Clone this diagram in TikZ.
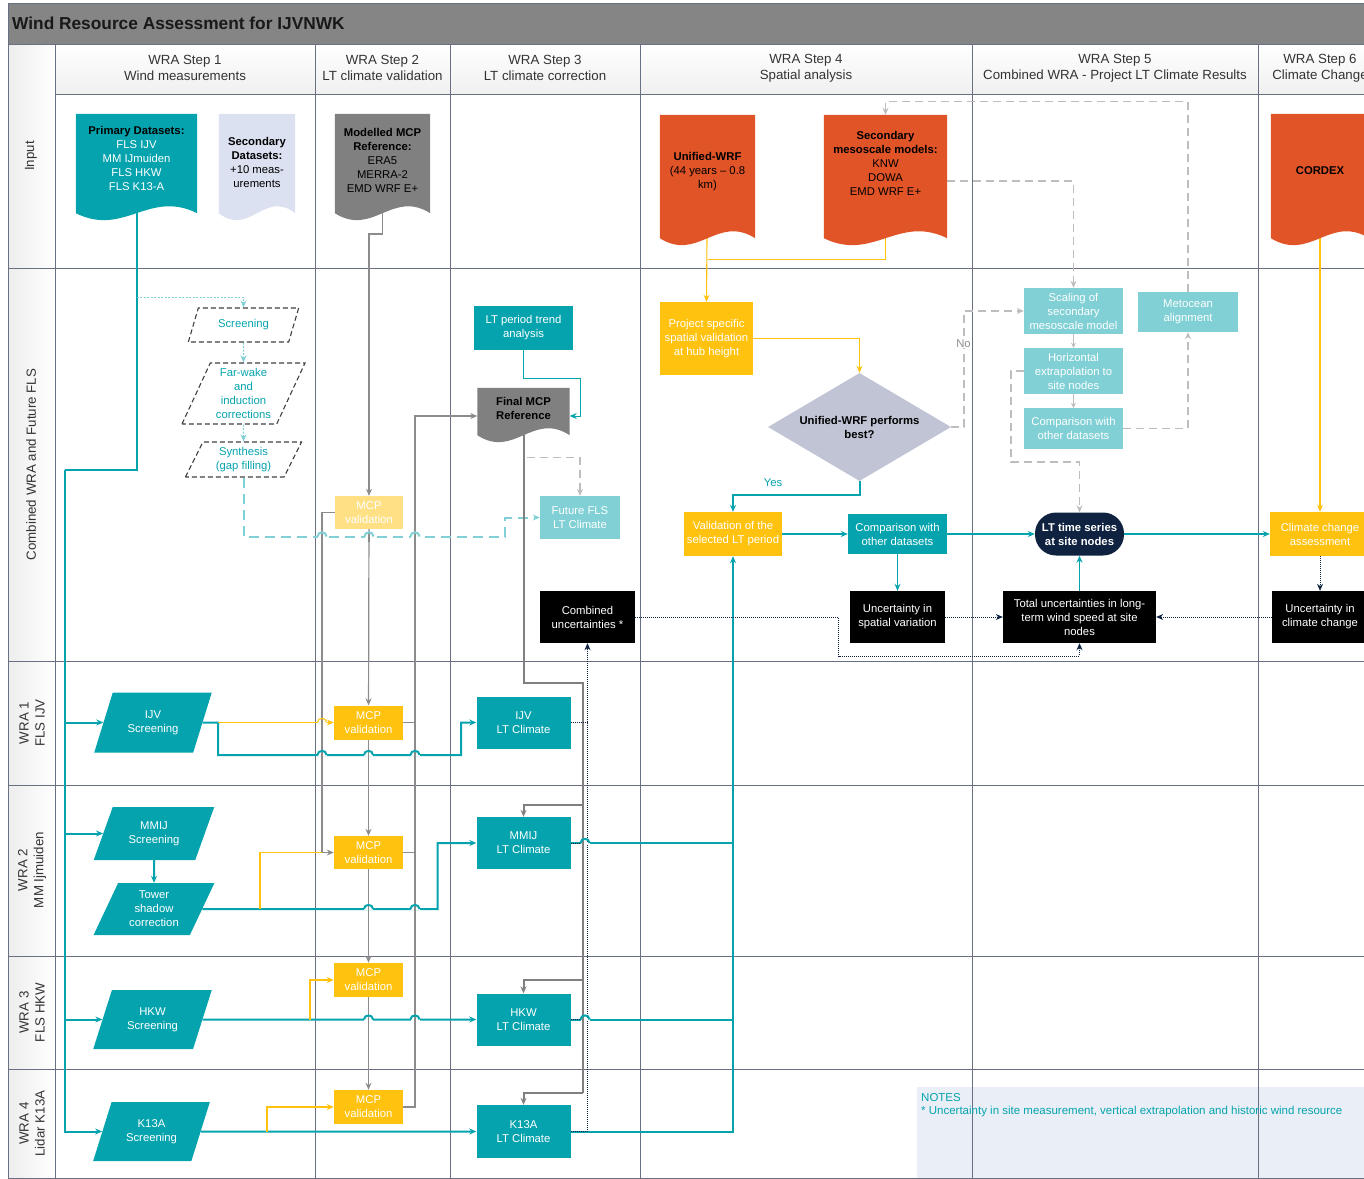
\documentclass[tikz,border=0pt]{standalone}
\usepackage{fontspec}
\setmainfont{Liberation Sans}
\usetikzlibrary{arrows.meta, shapes.geometric, calc}

\definecolor{wteal}{HTML}{05A3AD}
\definecolor{wlteal}{HTML}{80D0D5}
\definecolor{wyellow}{HTML}{FFC20E}
\definecolor{wpale}{HTML}{FFE085}
\definecolor{worange}{HTML}{E05428}
\definecolor{wgrey}{HTML}{808080}
\definecolor{wlav}{HTML}{DCE1F1}
\definecolor{wdiam}{HTML}{C0C4D4}
\definecolor{wnavy}{HTML}{0F2340}
\definecolor{wgrid}{HTML}{6A7083}
\definecolor{wdash}{HTML}{BDBDBD}
\definecolor{wnotes}{HTML}{EAEFF7}
\definecolor{wtitle}{HTML}{858585}

\newcommand{\boxfont}{\fontsize{11.3}{14}\selectfont}
\newcommand{\hdrfont}{\fontsize{13.3}{16}\selectfont}
\newcommand{\ttlfont}{\fontsize{17.3}{20}\selectfont\bfseries}

\pgfdeclarelayer{gridlayer}
\pgfdeclarelayer{linelayer}
\pgfdeclarelayer{doclayer}
\pgfsetlayers{gridlayer,linelayer,doclayer,main}

% document shape: box with a wavy bottom edge
\newcommand{\docfill}[3]{%
  \fill[#2] (#1.north west) -- (#1.north east) -- ($(#1.south east)+(0,#3)$)
    .. controls ($(#1.south east)!0.4!(#1.south west)+(0,#3-24)$)
    and ($(#1.south east)!0.6!(#1.south west)+(0,#3+24)$)
    .. ($(#1.south west)+(0,#3)$) -- cycle;}

\tikzset{
  sz/.style 2 args={minimum width=#1pt, minimum height=#2pt},
  doc/.style={rectangle, text=black},
  tbox/.style={rectangle, fill=wteal, text=white},
  ltbox/.style={rectangle, fill=wlteal, text=white},
  ybox/.style={rectangle, fill=wyellow, text=white},
  kbox/.style={rectangle, fill=black, text=white},
  para/.style={trapezium, trapezium left angle=65, trapezium right angle=115, trapezium stretches=true},
  scr/.style={para, fill=wteal, text=white},
  dscr/.style={para, draw=black!75, line width=1.1pt, dash pattern=on 5pt off 3pt, text=wteal},
  hdr/.style={font=\hdrfont, text=black!80},
  rowlbl/.style={font=\hdrfont, text=black!80, rotate=90},
  gridline/.style={draw=wgrid, line width=0.8pt},
  arr/.style={-{Stealth[length=7pt, width=6pt]}},
  arrs/.style={-{Stealth[length=5pt, width=5pt]}},
  tline/.style={draw=wteal, line width=2pt},
  tmid/.style={draw=wteal, line width=1.4pt},
  tthin/.style={draw=wteal, line width=1pt},
  yline/.style={draw=wyellow, line width=1.1pt},
  gline/.style={draw=black!45, line width=1.2pt},
  gthick/.style={draw=black!50, line width=2pt},
  gsmall/.style={draw=wdash, line width=1.2pt},
  gdash/.style={draw=wdash, line width=1.6pt, dash pattern=on 8pt off 5pt},
  tdash/.style={draw=wlteal, line width=2pt, dash pattern=on 10pt off 6pt},
  lthop/.style={draw=wlteal, line width=2pt},
  tdot/.style={draw=wlteal, line width=1.1pt, dash pattern=on 2pt off 1.5pt},
  ndot/.style={draw=wnavy, line width=0.9pt, dash pattern=on 1pt off 1pt},
}

\begin{document}
\begin{tikzpicture}[x=1pt, y=-1pt, every node/.style={font=\boxfont, inner sep=1pt, align=center}]
\useasboundingbox (0,0) rectangle (1364,1178);

% frame, headers and swim lanes
\begin{pgfonlayer}{gridlayer}
  \fill[wtitle] (8,3) rectangle (1380,44);
  \shade[top color=white, bottom color=gray!12] (55,44) rectangle (1380,94);
  \foreach \ya/\yb in {44/268,268/661,661/785,785/956,956/1069,1069/1178}
    \shade[left color=gray!14, right color=white] (8,\ya) rectangle (55,\yb);
  \fill[wnotes] (917,1087) rectangle (1380,1178);
  \foreach \x in {8,55,315,450,640,972,1258}
    \draw[gridline] (\x,44) -- (\x,1178);
  \foreach \y in {44,268,661,785,956,1069}
    \draw[gridline] (8,\y) -- (1380,\y);
  \draw[gridline] (55,94) -- (1380,94);
  \draw[gridline] (8,3) rectangle (1380,1178);
\end{pgfonlayer}

\node[anchor=west, font=\ttlfont, text=black!90] (title) at (11,23.5) {Wind Resource Assessment for IJVNWK};

\node[hdr] (h1) at (185,68) {WRA Step 1\\Wind measurements};
\node[hdr] (h2) at (382.5,68) {WRA Step 2\\LT climate validation};
\node[hdr] (h3) at (545,68) {WRA Step 3\\LT climate correction};
\node[hdr] (h4) at (806,68) {WRA Step 4\\Spatial analysis};
\node[hdr] (h5) at (1115,68) {WRA Step 5\\Combined WRA - Project LT Climate Results};
\node[hdr] (h6) at (1320,68) {WRA Step 6\\Climate Change};

\node[rowlbl] (lane0) at (31,156) {Input};
\node[rowlbl] (lane1) at (31,464.5) {Combined WRA and Future FLS};
\node[rowlbl] (lane2) at (32,723) {WRA 1\\FLS IJV};
\node[rowlbl] (lane3) at (32,870) {WRA 2\\MM Ijmuiden};
\node[rowlbl] (lane4) at (32,1012.5) {WRA 3\\FLS HKW};
\node[rowlbl] (lane5) at (32,1123.5) {WRA 4\\Lidar K13A};

% input documents
\node[doc, sz={121}{88}, text=white] (prim) at (136.5,158) {\textbf{\textcolor{black}{Primary Datasets:}}\\FLS IJV\\MM IJmuiden\\FLS HKW\\FLS K13-A};
\node[doc, sz={76}{96}] (sec) at (257,162) {\textbf{Secondary}\\\textbf{Datasets:}\\+10 meas-\\urements};
\node[doc, sz={95}{92}] (mcpref) at (382.5,160) {\textbf{Modelled MCP}\\\textbf{Reference:}\\ERA5\\MERRA-2\\EMD WRF E+};
\node[doc, sz={95}{114}] (unified) at (707.5,172) {\textbf{Unified-WRF}\\(44 years -- 0.8\\km)};
\node[doc, sz={123}{97}] (secmeso) at (885.5,163.5) {\textbf{Secondary}\\\textbf{mesoscale models:}\\KNW\\DOWA\\EMD WRF E+};
\node[doc, sz={98}{114}] (cordex) at (1320,171) {\textbf{CORDEX}};
\node[doc, sz={92}{40}] (finref) at (523.5,408) {\textbf{Final MCP}\\\textbf{Reference}};

\begin{pgfonlayer}{doclayer}
  \docfill{prim}{wteal}{11}
  \docfill{sec}{wlav}{3}
  \docfill{mcpref}{wgrey}{7}
  \docfill{unified}{worange}{9}
  \docfill{secmeso}{worange}{26}
  \docfill{cordex}{worange}{10}
  \docfill{finref}{wgrey}{7}
\end{pgfonlayer}

% combined WRA lane
\node[dscr, sz={111}{34}] (screen) at (243.5,325) {Screening};
\node[dscr, sz={123}{61}] (farwake) at (243.5,393.5) {Far-wake\\and\\induction\\corrections};
\node[dscr, sz={117}{35}] (synth) at (243.5,459.5) {Synthesis\\(gap filling)};
\node[tbox, sz={99}{44}] (trend) at (523.5,328) {LT period trend\\analysis};
\node[ltbox, sz={80}{43}] (future) at (580,517.5) {Future FLS\\LT Climate};
\node[rectangle, fill=wpale, text=white, sz={68}{33}] (mcp0) at (369,512.5) {MCP\\validation};
\node[kbox, sz={95}{52}] (combunc) at (587.5,617) {Combined\\uncertainties *};
\node[ybox, sz={93}{73}] (projspec) at (706.5,338.5) {Project specific\\spatial validation\\at hub height};
\node[diamond, fill=wdiam, text=black, font=\boxfont\bfseries, aspect=1.7, inner sep=0pt,
      minimum width=183pt, minimum height=108pt] (dec) at (859.5,427) {Unified-WRF performs\\best?};
\node[ybox, sz={98}{44}] (valid) at (733,534) {Validation of the\\selected LT period};
\node[tbox, sz={99}{40}] (comp1) at (897.5,534) {Comparison with\\other datasets};
\node[kbox, sz={95}{52}] (uncsp) at (897.5,617) {Uncertainty in\\spatial variation};
\node[ltbox, sz={99}{46}] (scaling) at (1073.5,311) {Scaling of\\secondary\\mesoscale model};
\node[ltbox, sz={99}{46}] (horiz) at (1073.5,371) {Horizontal\\extrapolation to\\site nodes};
\node[ltbox, sz={99}{41}] (comp2) at (1073.5,428.5) {Comparison with\\other datasets};
\node[ltbox, sz={100}{40}] (metocean) at (1188,312) {Metocean\\alignment};
\node[rectangle, rounded corners=21pt, fill=wnavy, text=white, font=\boxfont\bfseries, sz={89}{43}] (ltts) at (1079.5,534) {LT time series\\at site nodes};
\node[kbox, sz={153}{52}] (totunc) at (1079.5,617) {Total uncertainties in long-\\term wind speed at site\\nodes};
\node[ybox, sz={100}{44}] (ccassess) at (1320,534) {Climate change\\assessment};
\node[kbox, sz={96}{52}] (unccc) at (1320,617) {Uncertainty in\\climate change};
\node[text=wteal] (yes) at (773,483) {Yes};
\node[text=black!45, fill=white, inner sep=0pt] (no) at (963.5,344) {No};

% measurement lanes
\node[scr, sz={118}{60}] (ijvscr) at (153,722.5) {IJV\\Screening};
\node[ybox, sz={69}{34}] (mcp1) at (368.5,722.5) {MCP\\validation};
\node[tbox, sz={94}{52}] (ijvlt) at (523.5,722.5) {IJV\\LT Climate};
\node[scr, sz={121}{53}] (mmijscr) at (154,833.5) {MMIJ\\Screening};
\node[scr, sz={121}{52}] (towscr) at (154,909) {Tower\\shadow\\correction};
\node[ybox, sz={69}{33}] (mcp2) at (368.5,852.5) {MCP\\validation};
\node[tbox, sz={94}{52}] (mmijlt) at (523.5,843) {MMIJ\\LT Climate};
\node[scr, sz={119}{59}] (hkwscr) at (152.5,1019.5) {HKW\\Screening};
\node[ybox, sz={69}{34}] (mcp3) at (368.5,980) {MCP\\validation};
\node[tbox, sz={94}{52}] (hkwlt) at (523.5,1019.5) {HKW\\LT Climate};
\node[scr, sz={117}{59}] (k13scr) at (151.5,1131.5) {K13A\\Screening};
\node[ybox, sz={69}{34}] (mcp4) at (368.5,1107) {MCP\\validation};
\node[tbox, sz={94}{53}] (k13lt) at (523.5,1131.5) {K13A\\LT Climate};

\node[anchor=west, text=wteal, inner sep=0pt, font=\fontsize{11.5}{14}\selectfont] (notes) at (921,1097.5) {NOTES};
\node[anchor=west, text=wteal, inner sep=0pt, font=\fontsize{11.5}{14}\selectfont] (note1) at (921,1111.5) {* Uncertainty in site measurement, vertical extrapolation and historic wind resource};

% junctions
\coordinate (jtr) at (65,470);
\coordinate (jpd) at (136.5,297.5);
\coordinate (jw1) at (218,722.5);
\coordinate (jw2) at (260,909);
\coordinate (jg2) at (322,852.5);
\coordinate (jw3) at (310,1019.5);
\coordinate (jw4) at (267,1131.5);
\coordinate (jg4) at (415,1107);
\coordinate (jgf) at (583,683);
\coordinate (jmm) at (583,804.5);
\coordinate (jhk) at (583,980);
\coordinate (jk13) at (583,1092.5);
\coordinate (jfd) at (527,457.5);
\coordinate (jcu) at (838.5,656);
\coordinate (jyu) at (707.5,259.5);
\coordinate (jmt) at (885.5,101.5);
\coordinate (jlt) at (1079.5,462);

\begin{pgfonlayer}{linelayer}
  % measurements
  \draw[tline] (prim.center) |- (jtr);
  \draw[tline,arr] (jtr) |- (ijvscr.west);
  \draw[tline,arr] (jtr) |- (mmijscr.west);
  \draw[tline,arr] (jtr) |- (hkwscr.west);
  \draw[tline,arr] (jtr) |- (k13scr.west);
  \draw[tdot,arr] (jpd) -| (screen.north);
  \draw[tdot,arr] (screen.south) -- (farwake.north);
  \draw[tdot,arr] (farwake.south) -- (synth.north);
  \draw[tdash,arr] (synth.south) |- (505,536.5) |- (future.west);

  % MCP validation chain
  \draw[gline,arr] (mcpref.center) -- (mcpref.center |- 0,234) -| (mcp0.north);
  \draw[gline,arr] (mcp0) -- (mcp1);
  \draw[gline,arr] (mcp1) -- (mcp2);
  \draw[gline,arr] (mcp2) -- (mcp3);
  \draw[gline,arr] (mcp3) -- (mcp4);
  \draw[gline,arr] (mcp0.west) -| (jg2) -- (mcp2.west);
  \draw[gline,arr] (mcp4.east) -- (jg4) |- ([yshift=-8pt]finref.west);
  \draw[gline] (mcp1.east) -- (mcp1.east -| jg4);
  \draw[gline] (mcp2.east) -- (mcp2.east -| jg4);

  % LT correction
  \draw[tthin,arr] (trend.south) |- (580,378) |- ([yshift=-8pt]finref.east);
  \draw[gdash,arr] (jfd) -| (future.north);
  \draw[gthick] (finref.center) |- (jgf) -- (jk13);
  \draw[gthick,arr] (jmm) -| (mmijlt.north);
  \draw[gthick,arr] (jhk) -| (hkwlt.north);
  \draw[gthick,arr] (jk13) -| (k13lt.north);

  % lanes
  \draw[tline,arr] (ijvscr) -- (jw1) |- (461,755) |- (ijvlt.west);
  \draw[yline,arr] (jw1) -- (mcp1.west);
  \draw[tline,arr] (mmijscr.south) -- (towscr.north);
  \draw[tline,arr] (towscr) -- (437.5,909) |- (mmijlt.west);
  \draw[yline] (jw2) |- (jg2);
  \draw[tline,arr] (hkwscr) -- (hkwlt.west);
  \draw[yline,arr] (jw3) |- (mcp3.west);
  \draw[tline,arr] (k13scr) -- (k13lt.west);
  \draw[yline,arr] (jw4) |- (mcp4.west);

  \draw[tline] (mmijlt.east) -- (mmijlt.east -| valid.south);
  \draw[tline] (hkwlt.east) -- (hkwlt.east -| valid.south);
  \draw[tline,arr] (k13lt.east) -| (valid.south);
  \draw[ndot,arr] (k13lt.east) -| (combunc.south);
  \draw[ndot] (ijvlt.east) -- (ijvlt.east -| combunc.south);
  \draw[ndot] (mmijlt.east) -- (mmijlt.east -| combunc.south);
  \draw[ndot] (hkwlt.east) -- (hkwlt.east -| combunc.south);

  % spatial analysis
  \draw[yline,arr] (unified.center) -- (projspec.north);
  \draw[yline] (secmeso.center) |- (jyu);
  \draw[yline,arr] (projspec.east) -| (dec.north);
  \draw[tline,arr] (dec.south) -- ++(0,13.5) -| (valid.north);
  \draw[gdash,arr] (dec.east) -- ++(13,0) |- (scaling.west);
  \draw[tline,arr] (valid) -- (comp1);
  \draw[tline,arr] (comp1) -- (ltts);
  \draw[tmid,arr] (comp1) -- (uncsp);
  \draw[tline,arr] (ltts) -- (ccassess);
  \draw[tmid,arr] (totunc) -- (ltts);
  \draw[ndot,arr] (ccassess) -- (unccc);
  \draw[ndot,arr] (unccc) -- (totunc);
  \draw[ndot,arr] (uncsp) -- (totunc);
  \draw[ndot,arr] (combunc.east) -| (jcu) -| (totunc.south);
  \draw[yline,arr] (cordex.center) -- (ccassess.north);

  % secondary mesoscale loop
  \draw[gdash,arr] ([yshift=-17.5pt]secmeso.east) -| (scaling.north);
  \draw[gdash,arr] (metocean.north) |- (jmt) -- (secmeso.north);
  \draw[gdash,arr] (comp2.east) -| (metocean.south);
  \draw[gdash,arr] (horiz.west) -- ++(-13,0) |- (jlt) -- (ltts.north);
  \draw[gsmall,arrs] (scaling) -- (horiz);
  \draw[gsmall,arrs] (horiz) -- (comp2);

  % line hops where connectors cross
  \foreach \x/\y/\hs/\vx/\vs in {322/755/tline/322/gline, 368.5/755/tline/368.5/gline,
      415/755/tline/415/gline, 322/722.5/yline/322/gline, 322/536.5/lthop/322/gline,
      369/536.5/lthop/369/gline, 415/536.5/lthop/415/gline, 368.5/909/tline/368.5/gline,
      415/909/tline/415/gline, 585/843/tline/583/gthick, 368.5/1019.5/tline/368.5/gline,
      415/1019.5/tline/415/gline, 585/1019.5/tline/583/gthick} {
    \fill[white] (\x-4.5,\y-1.4) rectangle (\x+4.5,\y+1.4);
    \draw[\vs] (\vx,\y-5) -- (\vx,\y+5);
    \draw[\hs] (\x-4.5,\y) .. controls (\x-4.5,\y-5.5) and (\x+4.5,\y-5.5) .. (\x+4.5,\y);
  }
\end{pgfonlayer}
\end{tikzpicture}
\end{document}
